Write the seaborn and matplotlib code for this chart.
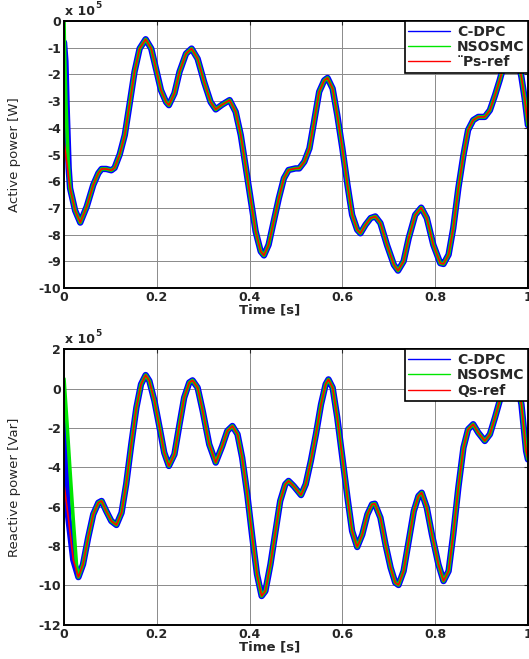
import numpy as np
import matplotlib.pyplot as plt
import seaborn as sns
from matplotlib.lines import Line2D

# ================= style =================
sns.set_style('white')
plt.rcParams['font.family'] = ['DejaVu Sans']

# ================= data (values in x 10^5) =================
# active power reference (Ps-ref)
t_ps = [0.000, 0.013, 0.024, 0.035, 0.049, 0.063, 0.074, 0.081, 0.091, 0.102,
        0.109, 0.120, 0.131, 0.141, 0.152, 0.163, 0.176, 0.188, 0.199, 0.209,
        0.220, 0.226, 0.238, 0.249, 0.263, 0.275, 0.288, 0.302, 0.316, 0.327,
        0.341, 0.357, 0.370, 0.381, 0.391, 0.402, 0.413, 0.424, 0.431, 0.441,
        0.452, 0.463, 0.474, 0.484, 0.499, 0.507, 0.518, 0.529, 0.539, 0.550,
        0.561, 0.568, 0.579, 0.589, 0.600, 0.611, 0.621, 0.632, 0.639, 0.650,
        0.661, 0.671, 0.682, 0.696, 0.711, 0.720, 0.732, 0.743, 0.757, 0.770,
        0.782, 0.796, 0.811, 0.818, 0.829, 0.839, 0.850, 0.861, 0.871, 0.882,
        0.893, 0.907, 0.918, 0.929, 0.939, 0.946, 0.958, 0.968, 0.978, 0.986,
        0.993, 1.000]
ps_ref = [-4.50, -6.26, -7.10, -7.55, -6.95, -6.14, -5.70, -5.54, -5.54, -5.59,
          -5.50, -5.00, -4.27, -3.15, -1.90, -1.03, -0.68, -1.03, -1.84, -2.59,
          -3.03, -3.15, -2.71, -1.90, -1.22, -1.03, -1.41, -2.28, -3.03, -3.31,
          -3.13, -2.96, -3.40, -4.27, -5.39, -6.64, -7.88, -8.63, -8.78, -8.38,
          -7.51, -6.64, -5.89, -5.58, -5.52, -5.52, -5.27, -4.77, -3.77, -2.65,
          -2.22, -2.13, -2.53, -3.52, -4.77, -6.14, -7.26, -7.82, -7.95, -7.63,
          -7.38, -7.32, -7.57, -8.38, -9.13, -9.35, -9.00, -8.13, -7.26, -6.99,
          -7.38, -8.38, -9.07, -9.10, -8.75, -7.76, -6.26, -5.02, -4.08, -3.71,
          -3.59, -3.59, -3.34, -2.78, -2.22, -1.78, -1.30, -1.15, -1.40, -2.10,
          -2.90, -3.90]
# start-up transients of the controllers (active power)
t_ps_cdpc0 = [0.000, 0.003, 0.006, 0.010]
ps_cdpc0 = [-0.80, -1.50, -3.40, -5.50]
t_ps_nsosmc0 = [0.000, 0.001, 0.004, 0.009]
ps_nsosmc0 = [0.00, -1.00, -3.00, -5.30]

# reactive power reference (Qs-ref)
t_qs = [0.000, 0.009, 0.020, 0.031, 0.041, 0.052, 0.063, 0.074, 0.081, 0.091,
        0.102, 0.113, 0.124, 0.134, 0.145, 0.156, 0.166, 0.176, 0.184, 0.195,
        0.206, 0.216, 0.226, 0.238, 0.249, 0.259, 0.270, 0.277, 0.288, 0.299,
        0.313, 0.327, 0.341, 0.352, 0.363, 0.374, 0.384, 0.395, 0.406, 0.416,
        0.426, 0.434, 0.445, 0.456, 0.466, 0.477, 0.484, 0.495, 0.503, 0.511,
        0.521, 0.532, 0.543, 0.554, 0.564, 0.570, 0.579, 0.589, 0.600, 0.611,
        0.621, 0.632, 0.643, 0.654, 0.664, 0.670, 0.682, 0.693, 0.704, 0.714,
        0.721, 0.732, 0.743, 0.754, 0.764, 0.771, 0.782, 0.793, 0.807, 0.818,
        0.829, 0.839, 0.850, 0.861, 0.871, 0.882, 0.893, 0.907, 0.918, 0.929,
        0.939, 0.946, 0.957, 0.967, 0.977, 0.986, 0.996, 1.000]
qs_ref = [-4.86, -6.50, -8.70, -9.58, -8.93, -7.58, -6.39, -5.80, -5.71, -6.22,
          -6.73, -6.93, -6.31, -4.86, -2.83, -0.97, 0.22, 0.69, 0.39, -0.63,
          -1.98, -3.25, -3.93, -3.34, -1.81, -0.46, 0.31, 0.42, 0.05, -1.14,
          -2.83, -3.76, -2.92, -2.15, -1.90, -2.32, -3.51, -5.37, -7.58, -9.44,
          -10.54, -10.29, -8.93, -7.24, -5.71, -4.86, -4.69, -4.95, -5.18, -5.41,
          -4.86, -3.68, -2.32, -0.80, 0.22, 0.47, 0.05, -1.47, -3.51, -5.54,
          -7.24, -8.05, -7.41, -6.39, -5.88, -5.85, -6.56, -7.92, -9.10, -9.86,
          -9.98, -9.27, -7.75, -6.22, -5.46, -5.29, -6.05, -7.41, -8.93, -9.78,
          -9.27, -7.41, -5.03, -3.00, -2.07, -1.81, -2.24, -2.66, -2.32, -1.47,
          -0.63, -0.29, 0.40, 0.70, 0.30, -0.80, -3.17, -3.60]
# start-up transients of the controllers (reactive power)
t_qs_cdpc0 = [0.000, 0.003, 0.006]
qs_cdpc0 = [-1.50, -3.20, -5.00]
t_qs_nsosmc0 = [0.000, 0.006, 0.013, 0.020, 0.027]
qs_nsosmc0 = [0.50, -1.60, -4.20, -6.70, -9.00]

x_ticks = [0, 0.2, 0.4, 0.6, 0.8, 1]
x_ticklabels = ['0', '0.2', '0.4', '0.6', '0.8', '1']
ps_yticks = [0, -1, -2, -3, -4, -5, -6, -7, -8, -9, -10]
qs_yticks = [2, 0, -2, -4, -6, -8, -10, -12]


def join_start(t0, v0, t_ref, v_ref):
    # start-up points followed by the tracked reference points
    t = list(t0) + [x for x in t_ref if x > t0[-1]]
    v = list(v0) + [y for x, y in zip(t_ref, v_ref) if x > t0[-1]]
    return t, v


c_blue, c_green, c_red = '#0000ff', '#00e600', '#ff0000'

fig = plt.figure(figsize=(5.29, 6.59), dpi=100)
ax1 = fig.add_axes([0.121, 0.563, 0.877, 0.405])
ax2 = fig.add_axes([0.121, 0.052, 0.877, 0.418])

panels = [
    (ax1, t_ps, ps_ref, (t_ps_cdpc0, ps_cdpc0), (t_ps_nsosmc0, ps_nsosmc0),
     (-10, 0), ps_yticks, 'Active power [W]', '¨Ps-ref'),
    (ax2, t_qs, qs_ref, (t_qs_cdpc0, qs_cdpc0), (t_qs_nsosmc0, qs_nsosmc0),
     (-12, 2), qs_yticks, 'Reactive power [Var]', 'Qs-ref'),
]

for ax, t_ref, v_ref, cd0, ns0, ylim, yticks, ylab, reflab in panels:
    t_cd, v_cd = join_start(cd0[0], cd0[1], t_ref, v_ref)
    t_ns, v_ns = join_start(ns0[0], ns0[1], t_ref, v_ref)

    sns.lineplot(x=t_cd, y=v_cd, ax=ax, color=c_blue, lw=4.6,
                 estimator=None, sort=False)
    sns.lineplot(x=t_ns, y=v_ns, ax=ax, color=c_green, lw=2.6,
                 estimator=None, sort=False)
    sns.lineplot(x=t_ref, y=v_ref, ax=ax, color=c_red, lw=1.2,
                 estimator=None, sort=False)

    ax.set_xlim(0, 1)
    ax.set_ylim(*ylim)
    ax.set_xticks(x_ticks)
    ax.set_xticklabels(x_ticklabels, fontweight='bold', fontsize=9)
    ax.set_yticks(yticks)
    ax.set_yticklabels([str(y) for y in yticks], fontweight='bold', fontsize=9)
    ax.tick_params(direction='in', top=True, right=True, length=3,
                   width=0.8, pad=2)
    ax.grid(True, color='#8a8a8a', lw=0.7)
    for sp in ax.spines.values():
        sp.set_color('black')
        sp.set_linewidth(1.4)

    ax.set_xlabel('Time [s]', fontweight='bold', fontsize=9.5, labelpad=0)
    ax.xaxis.set_label_coords(0.444, -0.057)
    ax.set_ylabel(ylab, fontsize=9.5)
    ax.yaxis.set_label_coords(-0.092, 0.5)

    # exponent note in the top-left corner
    ax.text(0.003, 1.012, 'x 10', transform=ax.transAxes, fontsize=9,
            fontweight='bold', ha='left', va='bottom')
    ax.text(0.068, 1.04, '5', transform=ax.transAxes, fontsize=6.5,
            fontweight='bold', ha='left', va='bottom')

    handles = [Line2D([0], [0], color=c_blue, lw=1.0),
               Line2D([0], [0], color=c_green, lw=1.0),
               Line2D([0], [0], color=c_red, lw=1.0)]
    leg = ax.legend(handles, ['C-DPC', 'NSOSMC', reflab], loc='upper right',
                    bbox_to_anchor=(1.0, 1.0), frameon=True, fancybox=False,
                    borderaxespad=0, handlelength=3.0, handletextpad=0.5,
                    labelspacing=0.1, borderpad=0.25,
                    prop={'weight': 'bold', 'size': 10})
    leg.get_frame().set_edgecolor('black')
    leg.get_frame().set_linewidth(1.2)
    leg.get_frame().set_alpha(1)

fig.savefig('out.png', dpi=100)
